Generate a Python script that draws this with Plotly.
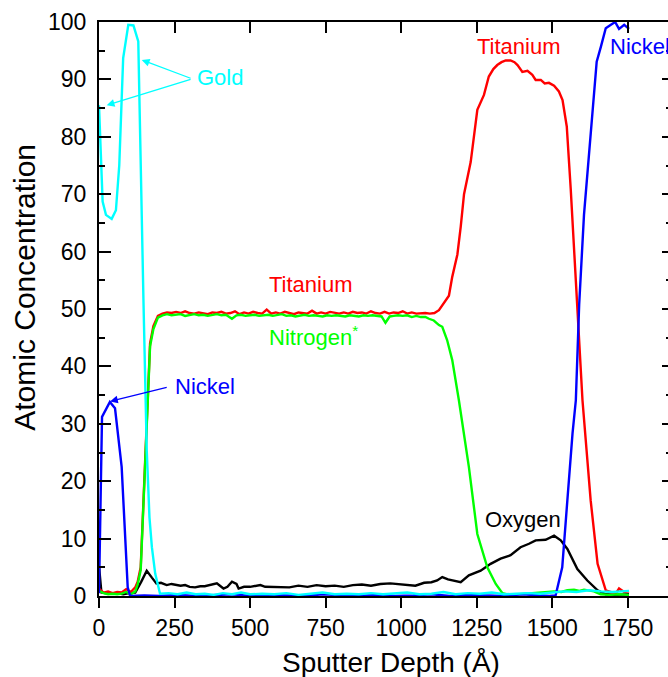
import plotly.graph_objects as go

# ---------------- data ----------------
ti_depth = [0, 15, 30, 45, 60, 75, 90, 105, 120, 128, 138, 152, 169, 180, 195, 210,
            225, 240, 255, 270, 285, 300, 315, 330, 345, 360, 375, 390, 405, 420, 435,
            450, 465, 480, 495, 510, 525, 540, 555, 570, 585, 600, 615, 630, 645, 660,
            675, 690, 705, 720, 735, 750, 765, 780, 795, 810, 825, 840, 855, 870, 885,
            900, 915, 930, 945, 960, 975, 990, 1005, 1020, 1035, 1050, 1065, 1080, 1095,
            1110, 1125, 1140, 1158, 1169, 1186, 1197, 1208, 1230, 1252, 1274, 1290, 1305,
            1318, 1332, 1346, 1362, 1375, 1385, 1401, 1418, 1434, 1445, 1462, 1475, 1489,
            1506, 1522, 1534, 1548, 1561, 1572, 1583, 1600, 1627, 1650, 1677, 1695, 1710,
            1721, 1738, 1754]
ti_conc = [1.3, 0.6, 0.8, 0.5, 0.7, 0.6, 1.2, 0.7, 1.5, 2.5, 5.0, 22.5, 44.0, 47.0, 48.8, 49.2,
           49.4, 49.3, 49.5, 49.3, 49.6, 49.3, 49.2, 49.4, 49.2, 49.1, 49.4, 49.3, 49.5, 49.2, 49.3,
           49.6, 49.1, 49.4, 49.2, 49.5, 49.3, 49.2, 49.9, 49.2, 49.4, 49.2, 49.5, 49.3, 49.1, 49.4,
           49.3, 49.2, 49.7, 49.2, 49.4, 49.2, 49.5, 49.3, 49.2, 49.4, 49.2, 49.5, 49.3, 49.4, 49.2,
           49.6, 49.3, 49.2, 49.5, 49.2, 49.4, 49.3, 49.6, 49.2, 49.4, 49.2, 49.3, 49.3, 49.2,
           49.3, 49.8, 51.0, 52.3, 55.6, 59.5, 64.3, 70.0, 75.6, 84.7, 87.3, 90.5, 91.8,
           92.5, 93.0, 93.3, 93.3, 93.0, 92.5, 91.3, 91.5, 90.8, 89.9, 89.9, 89.3, 89.4,
           88.9, 87.9, 86.4, 81.8, 71.0, 61.0, 50.7, 34.1, 16.7, 5.6, 1.0, 0.6, 0.4,
           1.3, 0.7, 0.8]

n_depth = [0, 15, 30, 45, 60, 75, 90, 105, 120, 128, 138, 152, 169, 180, 195, 210,
           225, 240, 255, 270, 285, 300, 315, 330, 345, 360, 375, 390, 405, 420, 440,
           455, 470, 485, 500, 515, 530, 545, 560, 575, 590, 605, 620, 635, 650, 665,
           680, 695, 710, 725, 740, 755, 770, 785, 800, 815, 830, 845, 860, 875, 890,
           905, 920, 935, 948, 962, 975, 990, 1005, 1020, 1035, 1050, 1065, 1080, 1092,
           1108, 1125, 1136, 1152, 1169, 1191, 1208, 1224, 1252, 1285, 1313, 1335, 1360,
           1390, 1420, 1450, 1480, 1506, 1530, 1550, 1572, 1590, 1605, 1620, 1638, 1660,
           1690, 1720, 1754]
n_conc = [0.9, 0.5, 0.3, 0.4, 0.3, 0.4, 0.7, 0.3, 0.8, 2.0, 4.5, 22.0, 43.5, 46.5, 48.5, 48.9,
          49.1, 48.9, 49.0, 49.1, 48.8, 49.0, 49.1, 48.9, 49.0, 48.8, 49.0, 49.1, 48.9, 49.0, 48.3,
          48.9, 49.0, 48.8, 48.9, 49.0, 48.8, 48.9, 49.0, 48.8, 48.9, 49.1, 48.8, 48.9, 48.7, 48.9,
          49.0, 48.8, 48.9, 48.8, 48.7, 48.9, 48.8, 48.9, 48.8, 48.7, 48.9, 48.8, 48.7, 48.9, 48.8,
          48.9, 48.8, 48.7, 47.6, 48.7, 48.8, 48.9, 48.8, 48.9, 48.6, 48.8, 48.6, 48.6, 48.3,
          48.0, 47.2, 46.9, 44.6, 41.1, 34.1, 28.3, 22.5, 10.8, 5.0, 2.1, 0.5, 0.2,
          0.3, 0.4, 0.6, 0.6, 0.8, 0.7, 1.0, 1.1, 0.9, 1.1, 1.0, 0.8, 0.3,
          0.2, 0.3, 0.2]

o_depth = [0, 8, 20, 40, 60, 80, 100, 120, 140, 158, 175, 190, 205, 224, 240, 255, 270,
           285, 300, 318, 335, 350, 370, 390, 412, 425, 440, 455, 462, 480, 500, 520, 534,
           550, 570, 600, 630, 660, 690, 720, 750, 780, 810, 840, 870, 900, 931, 964, 1000,
           1047, 1076, 1100, 1119, 1136, 1155, 1175, 1197, 1224, 1263, 1296, 1329, 1362,
           1395, 1423, 1445, 1478, 1506, 1528, 1550, 1583, 1616, 1650, 1677, 1710, 1754]
o_conc = [5.2, 0.6, 0.5, 0.4, 0.5, 0.3, 0.5, 0.6, 2.5, 4.4, 3.2, 2.2, 2.3, 1.9, 2.1, 1.9, 1.8,
          1.9, 1.6, 1.5, 1.7, 1.7, 1.9, 2.2, 1.3, 1.6, 2.5, 2.1, 1.3, 1.6, 1.6, 1.7, 1.9,
          1.6, 1.6, 1.6, 1.5, 1.8, 1.6, 1.9, 1.7, 1.8, 1.6, 1.9, 2.0, 1.8, 2.1, 2.2, 2.0,
          1.8, 2.3, 2.4, 2.7, 3.3, 2.9, 2.7, 2.4, 3.6, 4.4, 5.6, 6.5, 7.1,
          8.5, 9.1, 9.7, 9.8, 10.5, 9.7, 8.2, 4.7, 2.7, 1.0, 0.3, 0.2, 0.3]

ni_depth = [0, 10, 36, 53, 75, 86, 95, 103, 150, 200, 260, 320, 380, 440, 500, 560, 620,
            680, 740, 800, 860, 920, 980, 1040, 1100, 1160, 1220, 1280, 1340, 1400, 1450,
            1490, 1511, 1533, 1550, 1567, 1578, 1589, 1605, 1627, 1647, 1661, 1677, 1694,
            1708, 1721, 1738, 1754]
ni_conc = [0.5, 31.2, 33.8, 32.7, 22.5, 10.9, 1.5, 0.0, 0.1, 0.0, 0.2, 0.0, 0.1, 0.3, 0.0, 0.2, 0.1,
           0.0, 0.3, 0.1, 0.0, 0.2, 0.0, 0.1, 0.3, 0.0, 0.2, 0.1, 0.0, 0.3, 0.1,
           0.0, 0.1, 5.0, 16.7, 28.3, 34.1, 50.7, 66.4, 80.9, 93.1, 95.7, 98.9, 99.5,
           100.0, 98.8, 99.5, 98.8]

au_depth = [0, 12, 23, 42, 56, 67, 80, 97, 114, 130, 147, 158, 167, 175, 186, 202, 230,
            260, 290, 320, 350, 380, 410, 440, 470, 500, 540, 580, 620, 660, 700, 740, 780,
            820, 860, 900, 940, 980, 1020, 1060, 1100, 1140, 1180, 1220, 1260, 1300, 1340,
            1380, 1420, 1460, 1500, 1540, 1580, 1620, 1660, 1700, 1754]
au_conc = [85.5, 68.7, 66.4, 65.7, 67.2, 75.0, 93.7, 99.5, 99.4, 96.6, 51.8, 25.4, 13.7, 8.5, 3.9, 0.4, 0.5,
           0.3, 0.6, 0.3, 0.4, 0.2, 0.5, 0.3, 0.6, 0.3, 0.4, 0.3, 0.5, 0.2, 0.4, 0.6, 0.3,
           0.4, 0.3, 0.5, 0.3, 0.4, 0.6, 0.3, 0.4, 0.7, 0.3, 0.5, 0.4, 0.6, 0.3,
           0.4, 0.5, 0.4, 0.6, 0.8, 0.7, 1.0, 0.8, 0.7, 0.9]

x_ticks = [0, 250, 500, 750, 1000, 1250, 1500, 1750]
y_ticks = [0, 10, 20, 30, 40, 50, 60, 70, 80, 90, 100]

# ---------------- figure ----------------
FONT = "Liberation Sans, Arial, sans-serif"
CYAN, RED, GREEN, BLUE, BLACK = "#00FFFF", "#FF0000", "#00FF00", "#0000FF", "#000000"

fig = go.Figure()
series = [
    (o_depth, o_conc, BLACK, "Oxygen"),
    (ti_depth, ti_conc, RED, "Titanium"),
    (n_depth, n_conc, GREEN, "Nitrogen"),
    (ni_depth, ni_conc, BLUE, "Nickel"),
    (au_depth, au_conc, CYAN, "Gold"),
]
for xs, ys, col, name in series:
    fig.add_trace(go.Scatter(x=xs, y=ys, mode="lines", name=name,
                             line=dict(color=col, width=2.4), showlegend=False))
# empty trace to activate the mirrored top/right axes
fig.add_trace(go.Scatter(x=[], y=[], xaxis="x2", yaxis="y2", showlegend=False))

XR = [0, 1883]
fig.update_layout(
    width=668, height=677,
    margin=dict(l=99, r=0, t=22, b=81, autoexpand=False),
    plot_bgcolor="white", paper_bgcolor="white",
    font=dict(family=FONT, color="black"),
    xaxis=dict(range=XR, tickvals=x_ticks, ticks="outside", ticklen=10, tickwidth=2,
               tickcolor="black", showline=True, linewidth=2, linecolor="black",
               showgrid=False, zeroline=False, tickfont=dict(size=23), automargin=False),
    xaxis2=dict(range=XR, overlaying="x", side="top", tickvals=x_ticks, ticks="inside",
                ticklen=11, tickwidth=2, tickcolor="black", showticklabels=False,
                showline=True, linewidth=2, linecolor="black", showgrid=False,
                zeroline=False, automargin=False),
    yaxis=dict(range=[0, 100], tickvals=y_ticks, ticks="inside", ticklen=12, tickwidth=2,
               tickcolor="black", showline=True, linewidth=2, linecolor="black",
               showgrid=False, zeroline=False, tickfont=dict(size=23), ticklabelstandoff=6,
               automargin=False,
               minor=dict(ticks="inside", ticklen=6, tickwidth=2, tickcolor="black", dtick=5)),
    yaxis2=dict(range=[0, 100], overlaying="y", side="right", tickvals=y_ticks,
                ticks="inside", ticklen=6, tickwidth=2, tickcolor="black",
                showticklabels=False, showline=False, showgrid=False, zeroline=False,
                automargin=False,
                minor=dict(ticks="inside", ticklen=2, tickwidth=2, tickcolor="black", dtick=5)),
)

ann = []
# axis titles
ann.append(dict(text="Sputter Depth (Å)", xref="paper", yref="paper", x=0.513, y=-0.115,
                xanchor="center", yanchor="middle", showarrow=False, font=dict(size=28)))
ann.append(dict(text="Atomic Concentration", xref="paper", yref="paper", x=-0.130, y=0.537,
                xanchor="center", yanchor="middle", textangle=-90, showarrow=False,
                font=dict(size=30)))
# arrows
for hx, hy, tx, ty, col in [(141.5, 93.4, 308, 90.1, CYAN), (25.5, 85.5, 308, 90.1, CYAN),
                            (36.5, 33.9, 229, 36.4, BLUE)]:
    ann.append(dict(text="", x=hx, y=hy, ax=tx, ay=ty, xref="x", yref="y", axref="x",
                    ayref="y", showarrow=True, arrowhead=2, arrowsize=1.2, arrowwidth=1.3,
                    arrowcolor=col))
# labels
labels = [
    ("Gold", 401, 90.25, "center", CYAN),
    ("Titanium", 1389, 95.8, "center", RED),
    ("Nickel", 1684, 95.8, "left", BLUE),
    ("Titanium", 700, 54.3, "center", RED),
    ("Nitrogen<sup>*</sup>", 557, 45.3, "left", GREEN),
    ("Oxygen", 1402, 13.3, "center", BLACK),
    ("Nickel", 245, 36.5, "left", BLUE),
]
for t, x, y, xa, col in labels:
    ann.append(dict(text=t, x=x, y=y, xref="x", yref="y", xanchor=xa, yanchor="middle",
                    showarrow=False, font=dict(size=22, color=col)))
fig.update_layout(annotations=ann)

fig.write_html("out.html", config={"displayModeBar": False},
               post_script="document.body.style.margin='0';"
                           "document.body.style.overflow='hidden';")
